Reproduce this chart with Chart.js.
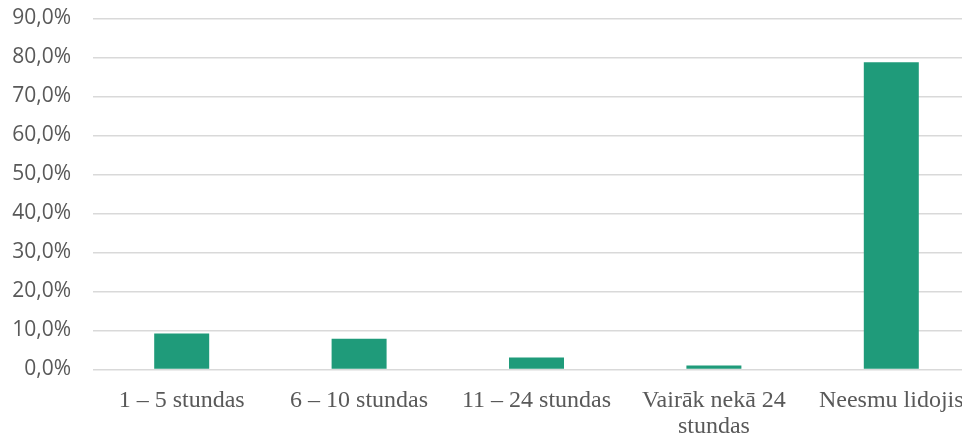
<!DOCTYPE html>
<html><head><meta charset="utf-8">
<script src="https://cdn.jsdelivr.net/npm/chart.js@4"></script>
<style>
html,body{margin:0;padding:0;background:#fff;overflow:hidden;width:962px;height:435px;}
#wrap{position:absolute;left:0;top:0;width:980px;height:435px;}
</style></head>
<body>
<div id="wrap"><canvas id="c" width="980" height="435"></canvas></div>
<script>
const categories = ["1 – 5 stundas", "6 – 10 stundas", "11 – 24 stundas", ["Vairāk nekā 24", "stundas"], "Neesmu lidojis"];
const values = [9.2, 7.9, 3.1, 1.0, 78.8];
const yTicks = [0, 10, 20, 30, 40, 50, 60, 70, 80, 90];

new Chart(document.getElementById('c'), {
  type: 'bar',
  data: {
    labels: categories,
    datasets: [{
      data: values,
      backgroundColor: '#1f9b7a',
      borderWidth: 0,
      categoryPercentage: 1,
      barPercentage: 0.31
    }]
  },
  options: {
    responsive: false,
    animation: false,
    layout: { padding: { top: 18.5, right: 0, left: 0, bottom: 0 } },
    plugins: { legend: { display: false }, tooltip: { enabled: false } },
    scales: {
      x: {
        grid: { display: false },
        border: { display: false },
        ticks: {
          color: '#595959',
          font: { family: '"Liberation Serif", "Times New Roman", serif', size: 24, lineHeight: 1.1 },
          padding: 10,
          maxRotation: 0,
          autoSkip: false
        },
        afterFit: s => { s.height = 65.5; s.paddingLeft = 0; s.paddingRight = 0; }
      },
      y: {
        min: 0, max: 90,
        afterBuildTicks: s => { s.ticks = yTicks.map(v => ({ value: v })); },
        grid: { color: '#d9d9d9', lineWidth: 1.5, drawTicks: false },
        border: { display: false },
        ticks: {
          color: '#595959',
          font: { family: '"Open Sans", sans-serif', size: 21 },
          padding: 22,
          callback: v => v.toFixed(1).replace('.', ',') + '%'
        },
        afterFit: s => { s.width = 93; s.paddingTop = 0; s.paddingBottom = 0; }
      }
    }
  }
});
</script>
</body></html>
